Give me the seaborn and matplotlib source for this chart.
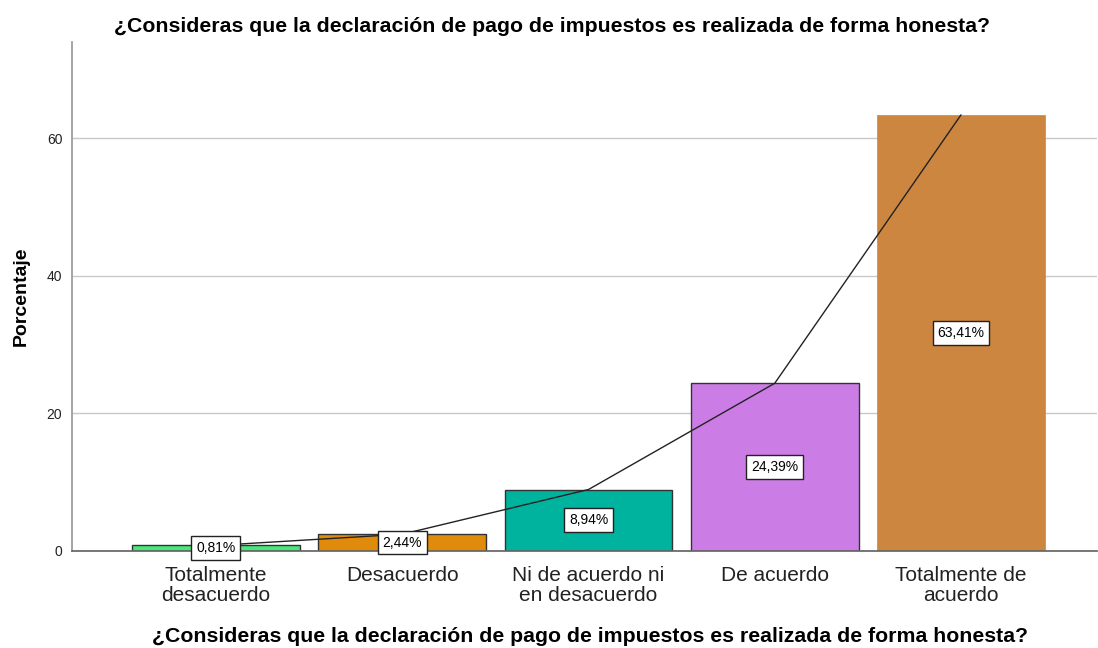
import matplotlib
matplotlib.use("Agg")
import matplotlib.pyplot as plt
import seaborn as sns
import pandas as pd

categories = ["Totalmente\ndesacuerdo", "Desacuerdo", "Ni de acuerdo ni\nen desacuerdo",
              "De acuerdo", "Totalmente de\nacuerdo"]
values = [0.81, 2.44, 8.94, 24.39, 63.41]
labels = ["0,81%", "2,44%", "8,94%", "24,39%", "63,41%"]
colors = ["#47e879", "#e08b0b", "#00b39f", "#cc7de5", "#cc863f"]
title = "¿Consideras que la declaración de pago de impuestos es realizada de forma honesta?"

sns.set_theme(style="white")
plt.rcParams['font.family'] = ['Liberation Sans', 'DejaVu Sans']

df = pd.DataFrame({"cat": categories, "val": values})

fig = plt.figure(figsize=(10.98, 6.48), dpi=100)
ax = fig.add_axes([72/1098, 97/648, 1025/1098, 509/648])

sns.barplot(data=df, x="cat", y="val", hue="cat", palette=colors, legend=False,
            width=0.9, ax=ax, zorder=2, saturation=1)
for i, p in enumerate(ax.patches):
    if i < len(values) - 1:
        p.set_edgecolor("#333333")
        p.set_linewidth(1.0)
    else:
        p.set_edgecolor(colors[i])
        p.set_linewidth(0.5)

ax.plot(range(len(values)), values, color="#222222", lw=1.0, zorder=3)

for i, (v, lab) in enumerate(zip(values, labels)):
    ax.text(i, v / 2, lab, ha="center", va="center", fontsize=10, color="black", zorder=4,
            bbox=dict(boxstyle="square,pad=0.35", facecolor="white", edgecolor="#222222", lw=1))

ax.set_xlim(-0.773, 4.73)
ax.set_ylim(0, 74)
ax.set_yticks([0, 20, 40, 60])
ax.yaxis.grid(True, color="#c8c8c8", lw=1)
ax.set_axisbelow(True)
ax.tick_params(axis="y", length=0, labelsize=10, pad=7, labelcolor="#222222")
ax.tick_params(axis="x", length=0, labelsize=15, pad=11, labelcolor="#222222")
for t in ax.get_xticklabels():
    t.set_linespacing(1.08)
for s in ["top", "right"]:
    ax.spines[s].set_visible(False)
ax.spines["left"].set_color("#999999")
ax.spines["bottom"].set_color("#666666")
ax.set_ylabel("Porcentaje", fontsize=14, fontweight="bold", labelpad=12, color="black")
ax.set_xlabel("")

fig.text(552/1098, 1 - 27/648, title, ha="center", va="center", fontsize=15.3,
         fontweight="bold", color="black")
fig.text(590/1098, 1 - 637/648, title, ha="center", va="center", fontsize=15.3,
         fontweight="bold", color="black")

fig.savefig("out.png", dpi=100)
